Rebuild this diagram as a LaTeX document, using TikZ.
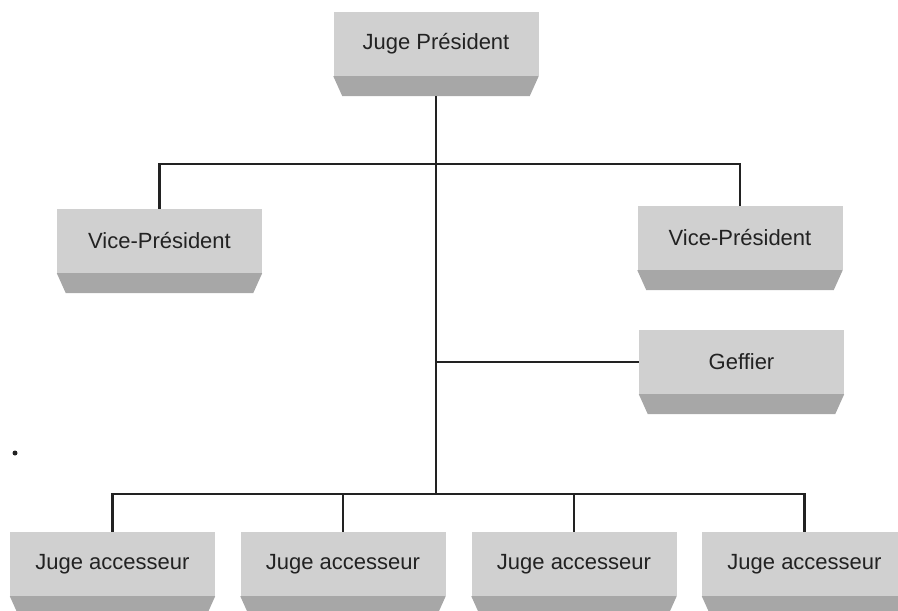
\documentclass[tikz,border=0pt]{standalone}
\usepackage{fontspec}
\setmainfont{Liberation Sans}
\usetikzlibrary{calc}

\definecolor{face}{HTML}{D0D0D0}
\definecolor{biseau}{HTML}{A7A7A7}
\definecolor{trait}{HTML}{222222}

\tikzset{
	poste/.style = {fill = face, minimum width = 205pt, minimum height = 64pt,
		inner sep = 0pt, text = trait, font = \fontsize{22}{26}\selectfont},
	lien/.style = {draw = trait, line width = 2.6pt}
}

% boite avec biseau : nom, position, texte
\newcommand{\boite}[3]{%
	\node[poste] (#1) at (#2) {#3};
	\fill[biseau] (#1.south west) -- (#1.south east) -- ++(-9,20)
		-- ($(#1.south west)+(9,20)$) -- cycle;
	\coordinate (#1-bas) at ($(#1.south)+(0,20)$);
}

\begin{document}
\begin{tikzpicture}[x=1pt, y=-1pt]
	\useasboundingbox (0,0) rectangle (898,611);
	\clip (0,0) rectangle (898,611);
	\boite{pres}{436,44}{Juge Président}
	\boite{vpg}{159.5,241}{Vice-Président}
	\boite{vpd}{740,238}{Vice-Président}
	\boite{geff}{741.5,362}{Geffier}
	\boite{ja1}{112.5,564}{Juge accesseur}
	\boite{ja2}{343,564}{Juge accesseur}
	\boite{ja3}{574,564}{Juge accesseur}
	\boite{ja4}{804.5,564}{Juge accesseur}
	\fill[trait] (15,453) circle (2.5pt);
	% liens
	\coordinate (bus) at ($(pres-bas |- ja1.north)+(0,-38)$);
	\draw[lien] (pres-bas) -- (bus);
	\draw[lien] (vpg.north) -- ++(0,-45) -| (vpd.north);
	\draw[lien] (pres-bas |- geff.west) -- (geff.west);
	\draw[lien] (ja1.north) -- ++(0,-38) -| (ja4.north);
	\draw[lien] (ja2.north) -- ++(0,-38);
	\draw[lien] (ja3.north) -- ++(0,-38);
\end{tikzpicture}
\end{document}
